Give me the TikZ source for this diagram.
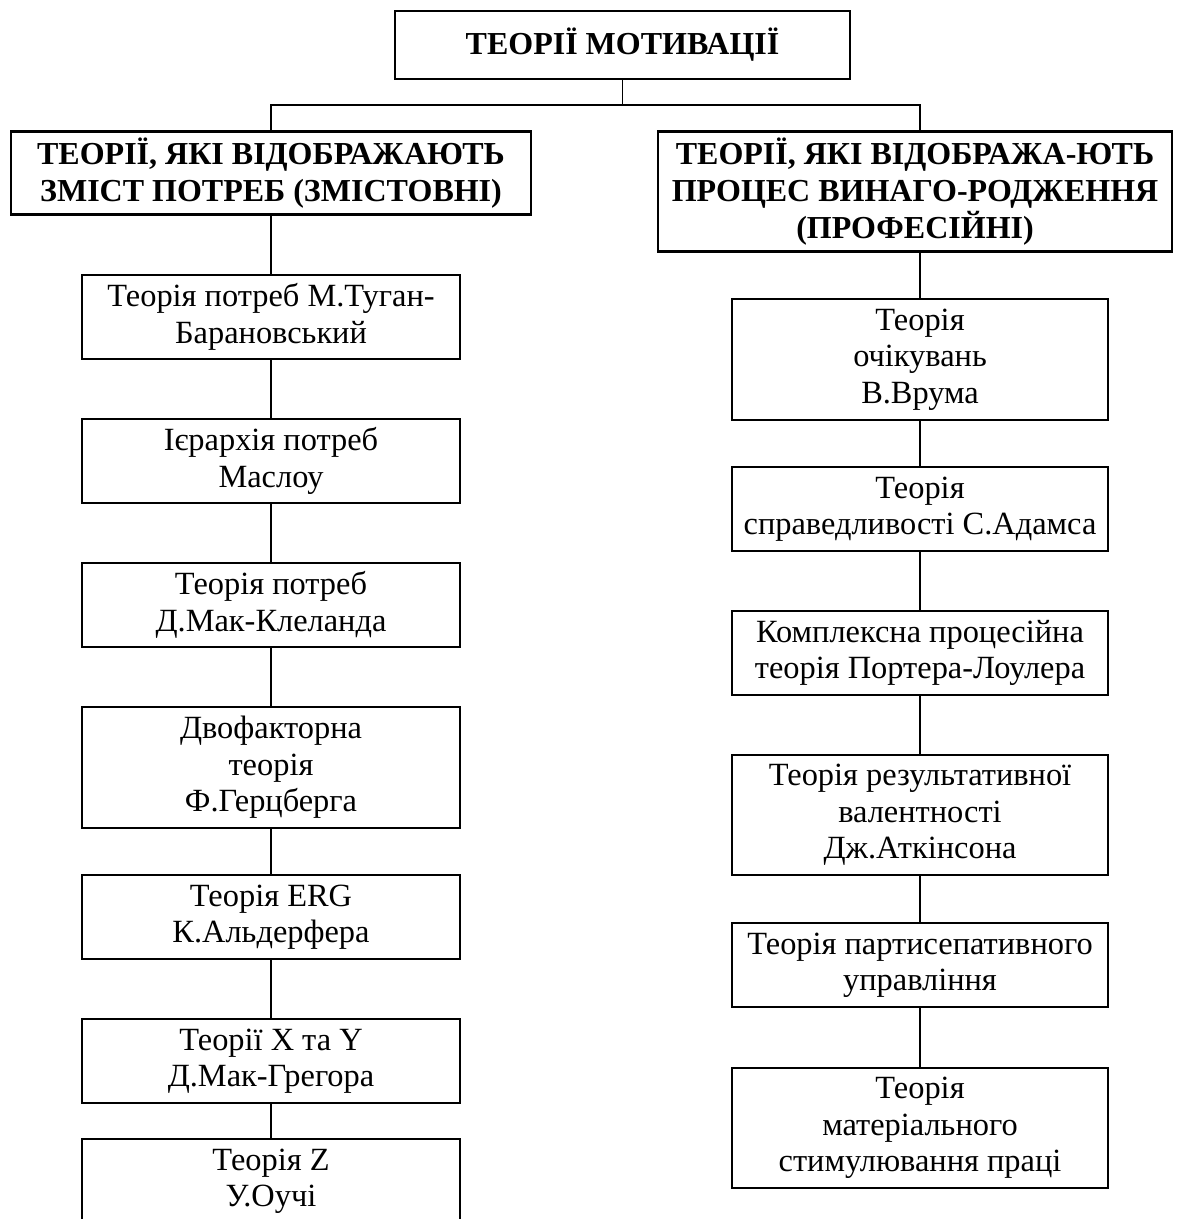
\documentclass[tikz,border=0pt]{standalone}
\usepackage{fontspec}
\setmainfont{Liberation Serif}
\begin{document}
\begin{tikzpicture}[x=0.5pt,y=-0.5pt,
  box/.style={draw, line width=1.25pt, align=center, inner sep=0pt,
    font=\fontsize{16.2}{18.2}\selectfont},
  head/.style={box, font=\fontsize{16}{18.5}\selectfont\bfseries},
  sz/.style 2 args={minimum width=#1*0.5pt, minimum height=#2*0.5pt},
  link/.style={line width=0.75pt}]
\clip (0,0) rectangle (1180,1219);
\fill[white] (0,0) rectangle (1180,1219);

% root and the two groups
\node[head, sz={455}{68}] (top) at (622.5,45) {ТЕОРІЇ МОТИВАЦІЇ};
\node[head, sz={520}{83}] (lh) at (271,173) {ТЕОРІЇ, ЯКІ ВІДОБРАЖАЮТЬ\\ЗМІСТ ПОТРЕБ (ЗМІСТОВНІ)};
\node[head, sz={514}{120}] (rh) at (915,191.5) {ТЕОРІЇ, ЯКІ ВІДОБРАЖА-ЮТЬ\\ПРОЦЕС ВИНАГО-РОДЖЕННЯ\\(ПРОФЕСІЙНІ)};

% content theories
\node[box, sz={378}{84}] (l1) at (271,317) {Теорія потреб М.Туган-\\Барановський};
\node[box, sz={378}{84}] (l2) at (271,461) {Ієрархія потреб\\Маслоу};
\node[box, sz={378}{84}] (l3) at (271,605) {Теорія потреб\\Д.Мак-Клеланда};
\node[box, sz={378}{121}] (l4) at (271,767.5) {Двофакторна\\теорія\\Ф.Герцберга};
\node[box, sz={378}{84}] (l5) at (271,917) {Теорія ERG\\К.Альдерфера};
\node[box, sz={378}{84}] (l6) at (271,1061) {Теорії X та Y\\Д.Мак-Грегора};
\node[box, sz={378}{84}] (l7) at (271,1181) {Теорія Z\\У.Оучі};

% process theories
\node[box, sz={376}{121}] (r1) at (920,359.5) {Теорія\\очікувань\\В.Врума};
\node[box, sz={376}{84}] (r2) at (920,509) {Теорія\\справедливості С.Адамса};
\node[box, sz={376}{84}] (r3) at (920,653) {Комплексна процесійна\\теорія Портера-Лоулера};
\node[box, sz={376}{120}] (r4) at (920,815) {Теорія результативної\\валентності\\Дж.Аткінсона};
\node[box, sz={376}{84}] (r5) at (920,965) {Теорія партисепативного\\управління};
\node[box, sz={376}{120}] (r6) at (920,1128) {Теорія\\матеріального\\стимулювання праці};

% connectors
\draw[link] (top.south) -- ++(0,25) coordinate (bus);
\draw[link] (bus) -| (lh.north);
\draw[link] (bus) -| (rh.north -| r1.north);
\draw[link] (lh.south) -- (l1.north);
\draw[link] (l1) -- (l2) (l2) -- (l3) (l3) -- (l4) (l4) -- (l5) (l5) -- (l6) (l6) -- (l7);
\draw[link] (rh.south -| r1.north) -- (r1.north);
\draw[link] (r1) -- (r2) (r2) -- (r3) (r3) -- (r4) (r4) -- (r5) (r5) -- (r6);
\end{tikzpicture}
\end{document}
